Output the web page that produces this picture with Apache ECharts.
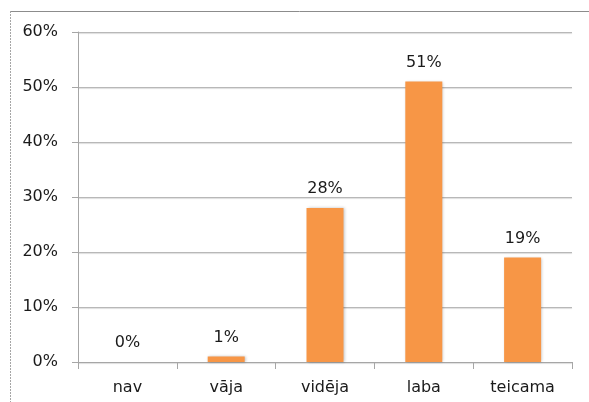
<!DOCTYPE html>
<html>
<head>
<meta charset="utf-8">
<script src="https://cdn.jsdelivr.net/npm/echarts@6/dist/echarts.min.js"></script>
<style>
html,body{margin:0;padding:0;background:#fff;}
#main{width:589px;height:402px;}
</style>
</head>
<body>
<div id="main"></div>
<script>
// dati no attēla
var categories = ['nav', 'vāja', 'vidēja', 'laba', 'teicama'];
var values = [0, 1, 28, 51, 19];
var yTicks = [0, 10, 20, 30, 40, 50, 60];

var mychart = echarts.init(document.getElementById('main'));
mychart.setOption({
    animation: false,
    textStyle: { fontFamily: 'DejaVu Sans' },
    // ārējais rāmis (redzama tikai augša un kreisā mala)
    graphic: [
        { type: 'line', shape: { x1: 10, y1: 11.5, x2: 589, y2: 11.5 }, style: { stroke: '#8c8c8c', lineWidth: 1 } },
        { type: 'line', shape: { x1: 10.5, y1: 11, x2: 10.5, y2: 402 }, style: { stroke: '#a6a6a6', lineWidth: 1, lineDash: [2, 1] } }
    ],
    grid: { left: 78, right: 17, top: 32, bottom: 40 },
    xAxis: {
        type: 'category',
        data: categories,
        axisLine: { lineStyle: { color: '#a6a6a6' } },
        axisTick: { show: true, length: 7, lineStyle: { color: '#a6a6a6' } },
        axisLabel: { fontSize: 16, color: '#1a1a1a', margin: 18 }
    },
    yAxis: {
        type: 'value',
        min: yTicks[0],
        max: yTicks[yTicks.length - 1],
        interval: 10,
        axisLine: { show: true, lineStyle: { color: '#a6a6a6' } },
        axisTick: { show: true, length: 6, lineStyle: { color: '#a6a6a6' } },
        axisLabel: { fontSize: 16, color: '#1a1a1a', margin: 20, formatter: '{value}%' },
        splitLine: { lineStyle: { color: '#b8b8b8', width: 1, shadowColor: 'rgba(0,0,0,0.15)', shadowOffsetY: 1, shadowBlur: 1 } }
    },
    series: [{
        type: 'bar',
        data: values,
        barWidth: 37,
        itemStyle: {
            color: '#f79646',
            shadowColor: 'rgba(0,0,0,0.25)',
            shadowBlur: 3,
            shadowOffsetX: 1
        },
        label: {
            show: true,
            position: 'top',
            distance: 11,
            fontSize: 16,
            color: '#1a1a1a',
            formatter: '{c}%'
        }
    }]
});
</script>
</body>
</html>
